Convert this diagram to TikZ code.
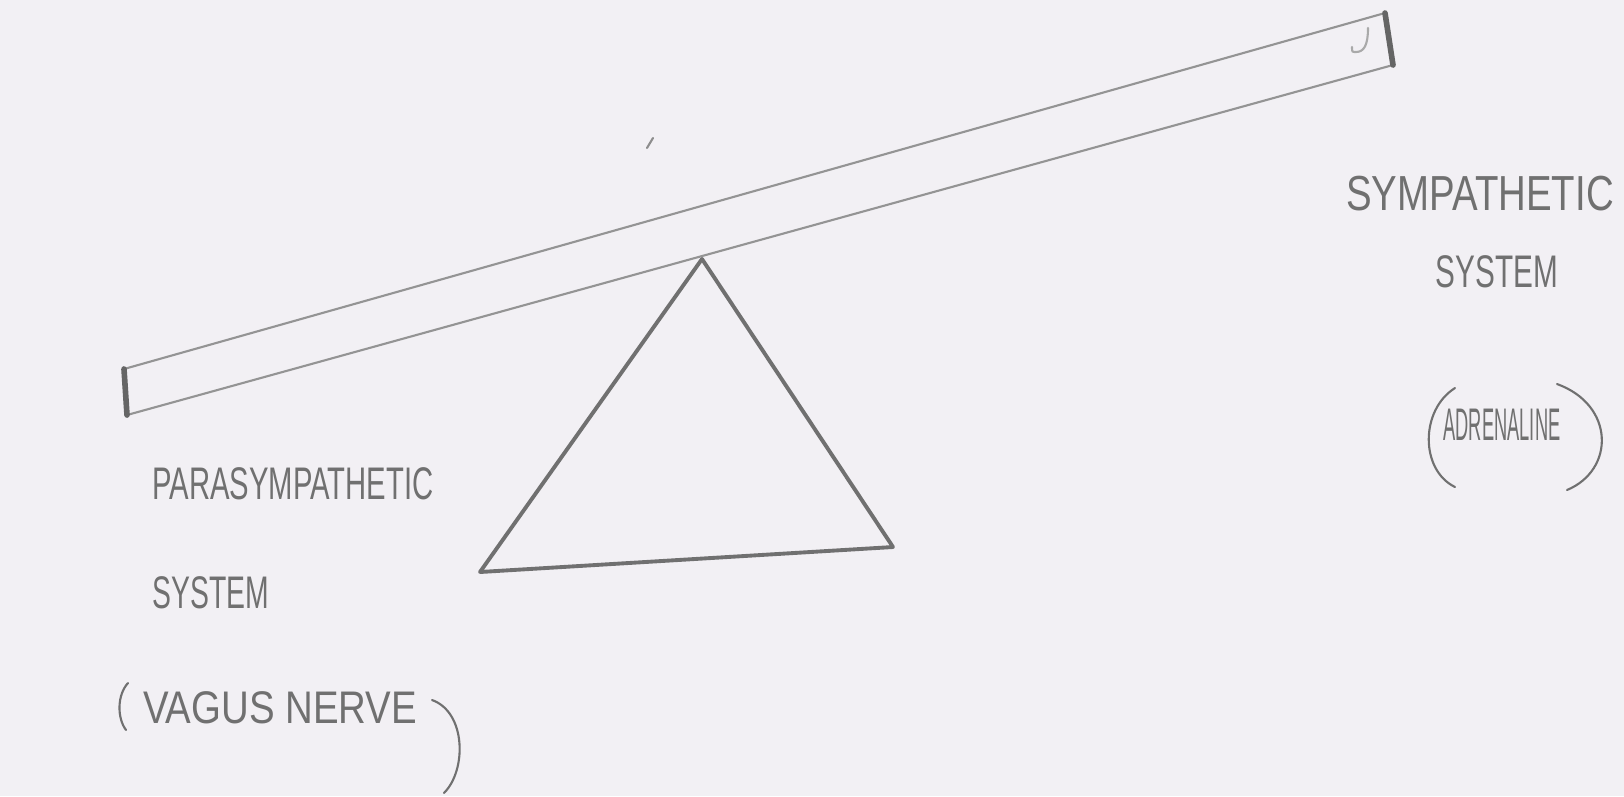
\documentclass[tikz,border=0pt]{standalone}
\usepackage{fontspec}
\setsansfont{Liberation Sans}
\definecolor{pencil}{HTML}{707070}
\definecolor{paper}{HTML}{F2F0F4}
\begin{document}
\begin{tikzpicture}[x=0.01cm,y=-0.01cm,
    hand/.style={text=pencil,inner sep=0pt,transform shape},
    lead/.style={draw=pencil,line width=0.6pt,line cap=round}]
  \fill[paper] (0,0) rectangle (1624,796);
  \useasboundingbox (0,0) rectangle (1624,796);
  % beam
  \coordinate (lt) at (124,369);
  \coordinate (lb) at (127,415);
  \coordinate (rt) at (1385,13);
  \coordinate (rb) at (1393,65);
  \draw[lead,draw=pencil!75] (lt) -- (rt);
  \draw[lead,draw=pencil!75] (lb) -- (rb);
  \draw[lead,draw=pencil!90!black,line width=1.6pt] (lt) -- (lb);
  \draw[lead,draw=pencil!90!black,line width=1.6pt] (rt) -- (rb);
  \draw[lead,draw=pencil!60] (1368,28) .. controls (1368,45) and (1364,52) .. (1356,52) .. controls (1352,52) .. (1352,47);
  \draw[lead,draw=pencil!80] (653,138) -- (647,148);
  % pivot
  \coordinate (apex) at (702,259);
  \coordinate (bl) at (480,572);
  \coordinate (br) at (893,547);
  \draw[lead,line width=1.1pt,line join=round] (apex) -- (bl) -- (br) -- cycle;
  % left labels
  \node[hand,font=\sffamily\fontsize{13}{13}\selectfont,xscale=0.64] (para) at (293,484) {PARASYMPATHETIC};
  \node[hand,font=\sffamily\fontsize{13}{13}\selectfont,xscale=0.62] (psys) at (211,593) {SYSTEM};
  \node[hand,font=\sffamily\fontsize{13}{13}\selectfont,xscale=0.84] (vagus) at (280,708) {VAGUS NERVE};
  \draw[lead] (128,683) .. controls (117,695) and (117,718) .. (126,730);
  \draw[lead] (432,700) .. controls (466,712) and (467,770) .. (444,793);
  % right labels
  \node[hand,font=\sffamily\fontsize{14}{14}\selectfont,xscale=0.78] (symp) at (1480,194) {SYMPATHETIC};
  \node[hand,font=\sffamily\fontsize{13}{13}\selectfont,xscale=0.65] (ssys) at (1497,272) {SYSTEM};
  \node[hand,font=\sffamily\fontsize{13}{13}\selectfont,xscale=0.4] (adren) at (1502,425) {ADRENALINE};
  \draw[lead] (1455,388) .. controls (1420,410) and (1420,470) .. (1455,487);
  \draw[lead] (1557,384) .. controls (1615,405) and (1615,470) .. (1567,490);
\end{tikzpicture}
\end{document}
